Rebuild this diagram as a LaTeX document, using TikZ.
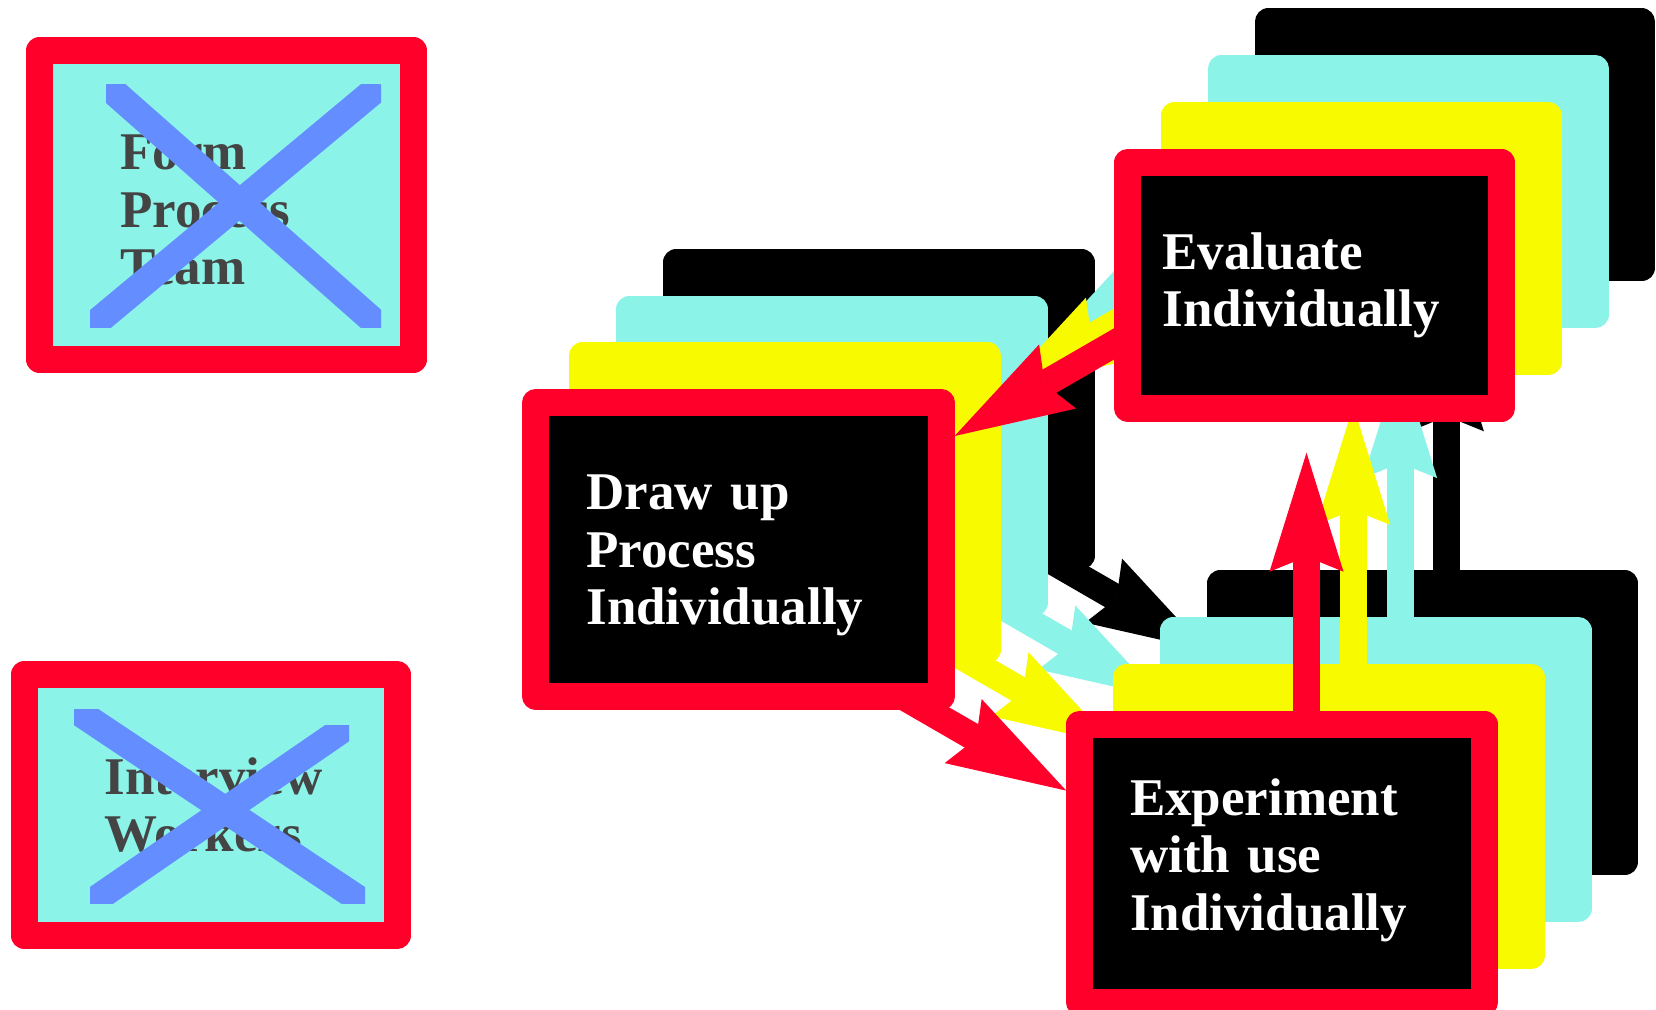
\documentclass[tikz,border=0pt]{standalone}
\usepackage{fontspec}
\setmainfont{Liberation Serif}
\usetikzlibrary{calc, positioning, arrows.meta}

\definecolor{plred}{RGB}{255,0,42}
\definecolor{plcyan}{RGB}{140,243,233}
\definecolor{plyellow}{RGB}{248,250,0}
\definecolor{plblue}{RGB}{100,142,255}
\definecolor{plgrey}{RGB}{68,68,68}

\tikzset{
  >={Stealth[length=59.5pt, width=37pt, inset=7.5pt, line width=0pt]},
  pl link/.style={draw=#1, ->, line width=13.5pt},
  pl box/.style={rectangle, line width=13.5pt, line join=round, inner sep=0pt,
    outer sep=6.75pt, font=\bfseries\fontsize{26.5pt}{28.75pt}\selectfont,
    align=left},
  pl step/.style={pl box, draw=plred, fill=black, text=white, text width=152pt},
  pl ghost/.style={pl box, draw=#1, fill=#1},
  pl old/.style={pl box, draw=plred, fill=plcyan, text=plgrey, text width=106pt},
  pl cross/.style={draw=plblue, line width=13.5pt},
  % small vertical nudges of the text block
  pl drop/.style={execute at begin node={\rule{0pt}{#1}}},
  pl lift/.style={execute at end node={\rule[-#1]{0pt}{0pt}}},
}

\begin{document}
\begin{tikzpicture}[x=0.5pt, y=-0.5pt,
   size draw/.style={minimum width=202.7pt, minimum height=146.7pt},
   size eval/.style={minimum width=186.9pt, minimum height=122.9pt},
   size exp/.style={minimum width=202.4pt, minimum height=139.1pt}]
 \useasboundingbox (0,0) rectangle (1656,1010);
 % dropped steps on the left
 \node[pl old, pl drop=22.5pt, minimum width=187pt, minimum height=154.5pt] (form)
   at (226.5,205) {Form\\Process\\Team};
 \node[pl old, minimum width=186.5pt, minimum height=130.5pt] (interview) at (210.6,805)
   {Interview\\Workers};
 \foreach \xa/\ya/\xb/\yb in {106/85/381/327.7, 381/85/90/327.7,
                              74/709/365/903.3, 349/725/90/903.3}{
   \begin{scope}
     \clip (\xa,\ya) rectangle (\xb,\yb);
     \draw[pl cross] (\xa,\ya) -- (\xb,\yb);
   \end{scope}
 }
 % stacked copies, far one first
 \foreach \k/\col in {3/black, 2/plcyan, 1/plyellow}{
   \begin{scope}[shift={(46.8*\k,-46.8*\k)}]
     \node[pl ghost=\col, size draw] (drawup) at (738.4,549.5) {};
     \node[pl ghost=\col, size eval] (evaluate) at (1314.6,285.3) {};
     \node[pl ghost=\col, size exp] (experiment) at (1282.1,863.1) {};
     \draw[pl link=\col] ($(evaluate.south west)+(13.5,-85.7)$) -- ($(drawup.north east)+(0,46.7)$);
     \draw[pl link=\col] ($(drawup.south east)+(-51.5,-13.35)$) -- ($(experiment.north west)+(0,80.1)$);
     \draw[pl link=\col] ($(experiment.north)+(24.4,13.6)$) -- ($(evaluate.south)+(-8.1,31)$);
   \end{scope}
 }
 % front steps
 \node[pl step, pl drop=23.5pt, size draw] (drawup) at (738.4,549.5)
   {Draw up\\Process\\Individually};
 \node[pl step, size eval] (evaluate) at (1314.6,285.3) {Evaluate\\Individually};
 \node[pl step, pl lift=8.75pt, size exp] (experiment) at (1282.1,863.1)
   {Experiment\\with use\\Individually};
 \draw[pl link=plred] ($(evaluate.south west)+(13.5,-85.7)$) -- ($(drawup.north east)+(0,46.7)$);
 \draw[pl link=plred] ($(drawup.south east)+(-51.5,-13.35)$) -- ($(experiment.north west)+(0,80.1)$);
 \draw[pl link=plred] ($(experiment.north)+(24.4,13.6)$) -- ($(evaluate.south)+(-8.1,31)$);
\end{tikzpicture}
\end{document}
